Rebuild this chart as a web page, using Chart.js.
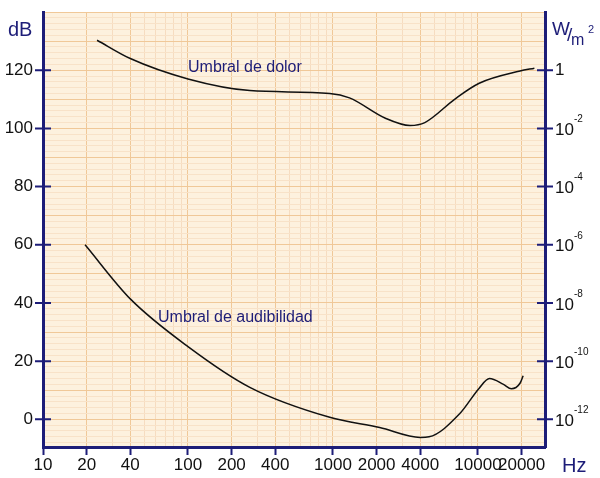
<!DOCTYPE html>
<html>
<head>
<meta charset="utf-8">
<script src="https://cdn.jsdelivr.net/npm/chart.js@4"></script>
<style>
  html, body { margin: 0; padding: 0; background: #fff; }
  #wrap { width: 600px; height: 478px; position: relative; }
</style>
</head>
<body>
<div id="wrap"><canvas id="umbrales"></canvas></div>
<script>
// threshold curves (Hz, dB)
const dolorHz = [23.6, 40, 100, 267, 950, 1300, 2300, 3400, 4300, 6900, 10200, 19500, 24500];
const dolorDb = [130.3, 124, 117, 113, 112, 110.5, 103.5, 101, 102, 110, 115.5, 119.7, 120.7];
const audHz = [19.5, 40, 100, 267, 950, 2100, 4000, 4600, 7500, 10200, 12000, 15000, 17000, 19500, 20500];
const audDb = [60, 41.4, 25, 11, 0.7, -2.8, -6.2, -6, 2, 10.7, 14, 12, 10.5, 12.4, 15];

const hzLabels = [10, 20, 40, 100, 200, 400, 1000, 2000, 4000, 10000, 20000];
const dbLabels = [0, 20, 40, 60, 80, 100, 120];
const wExp = ['-12', '-10', '-8', '-6', '-4', '-2', ''];

const navy = '#1d1d78';
const fam = 'Liberation Sans, Arial, sans-serif';
const font = { family: fam, size: 17 };

const paper = {
  id: 'paper',
  beforeDraw(chart) {
    const a = chart.chartArea, c = chart.ctx;
    c.save();
    c.fillStyle = '#fdf1de';
    c.fillRect(a.left, a.top, a.right - a.left, a.bottom - a.top);
    c.restore();
  },
  afterDraw(chart) {
    const c = chart.ctx, y = chart.scales.y, a = chart.chartArea;
    c.save();
    c.fillStyle = navy;
    c.strokeStyle = navy;
    c.lineWidth = 2;
    c.textBaseline = 'middle';
    // crossing tick marks on both vertical axes
    dbLabels.forEach(v => {
      const py = y.getPixelForValue(v);
      c.beginPath();
      c.moveTo(a.left - 8, py); c.lineTo(a.left + 8, py);
      c.moveTo(a.right - 8, py); c.lineTo(a.right + 8, py);
      c.stroke();
    });
    // right axis intensity labels
    c.fillStyle = '#111';
    dbLabels.forEach((v, i) => {
      const py = y.getPixelForValue(v);
      c.font = '17px ' + fam;
      if (wExp[i] === '') { c.fillText('1', a.right + 10, py); return; }
      c.fillText('10', a.right + 10, py + 2);
      c.font = '10px ' + fam;
      c.fillText(wExp[i], a.right + 29, py - 9);
    });
    c.fillStyle = navy;
    c.font = '16px ' + fam;
    c.fillText('Umbral de dolor', 188, 68);
    c.fillText('Umbral de audibilidad', 158, 318);
    c.font = '20px ' + fam;
    c.fillText('dB', 8, 30);
    c.fillText('Hz', 562, 466);
    c.font = '19px ' + fam;
    c.fillText('W', 552, 30);
    c.fillText('/', 567, 36);
    c.font = '16px ' + fam;
    c.fillText('m', 571, 41);
    c.font = '11px ' + fam;
    c.fillText('2', 588, 30);
    c.restore();
  }
};

function logTicks() {
  const t = [];
  for (let d = 10; d <= 10000; d *= 10)
    for (let k = 1; k <= 9; k++) if (d * k <= 29000) t.push({ value: d * k });
  return t;
}
function dbTicks() {
  const t = [];
  for (let v = -8; v <= 140; v += 2) t.push({ value: v });
  return t;
}

new Chart(document.getElementById('umbrales'), {
  type: 'line',
  data: {
    datasets: [
      { data: dolorHz.map((h, i) => ({ x: h, y: dolorDb[i] })) },
      { data: audHz.map((h, i) => ({ x: h, y: audDb[i] })) }
    ]
  },
  options: {
    responsive: true,
    maintainAspectRatio: false,
    animation: false,
    layout: { padding: { top: 12, right: 0, left: 0, bottom: 0 } },
    elements: {
      line: { borderColor: '#111', borderWidth: 1.5, cubicInterpolationMode: 'monotone' },
      point: { radius: 0 }
    },
    plugins: { legend: { display: false }, tooltip: { enabled: false } },
    scales: {
      x: {
        type: 'logarithmic', min: 10, max: 29000,
        afterBuildTicks: s => { s.ticks = logTicks(); },
        afterFit: s => { s.height = 31; },
        border: { color: navy, width: 3 },
        grid: {
          color: c => hzLabels.includes(c.tick.value) || [10, 100, 1000, 10000].includes(c.tick.value) ? '#f0c898' : '#f6dcc0',
          tickColor: c => hzLabels.includes(c.tick.value) ? navy : 'rgba(0,0,0,0)',
          tickLength: 8, tickWidth: 2
        },
        ticks: {
          autoSkip: false, maxRotation: 0, color: '#111', font, padding: 0,
          callback: v => hzLabels.includes(v) ? String(v) : ''
        }
      },
      y: {
        min: -9.5, max: 140,
        afterBuildTicks: s => { s.ticks = dbTicks(); },
        afterFit: s => { s.width = 43; },
        border: { color: navy, width: 3 },
        grid: {
          color: c => c.tick.value % 10 === 0 ? '#f0c898' : '#f8e2c8',
          tickColor: 'rgba(0,0,0,0)',
          tickLength: 10
        },
        ticks: {
          autoSkip: false, color: '#111', font, padding: 0,
          callback: v => dbLabels.includes(v) ? String(v) : ''
        }
      },
      w: {
        position: 'right', min: -9.5, max: 140,
        afterBuildTicks: s => { s.ticks = dbLabels.map(v => ({ value: v })); },
        afterFit: s => { s.width = 55; },
        border: { color: navy, width: 3 },
        grid: { drawOnChartArea: false, drawTicks: false },
        ticks: { color: 'rgba(0,0,0,0)', callback: () => '' }
      }
    }
  },
  plugins: [paper]
});
</script>
</body>
</html>
